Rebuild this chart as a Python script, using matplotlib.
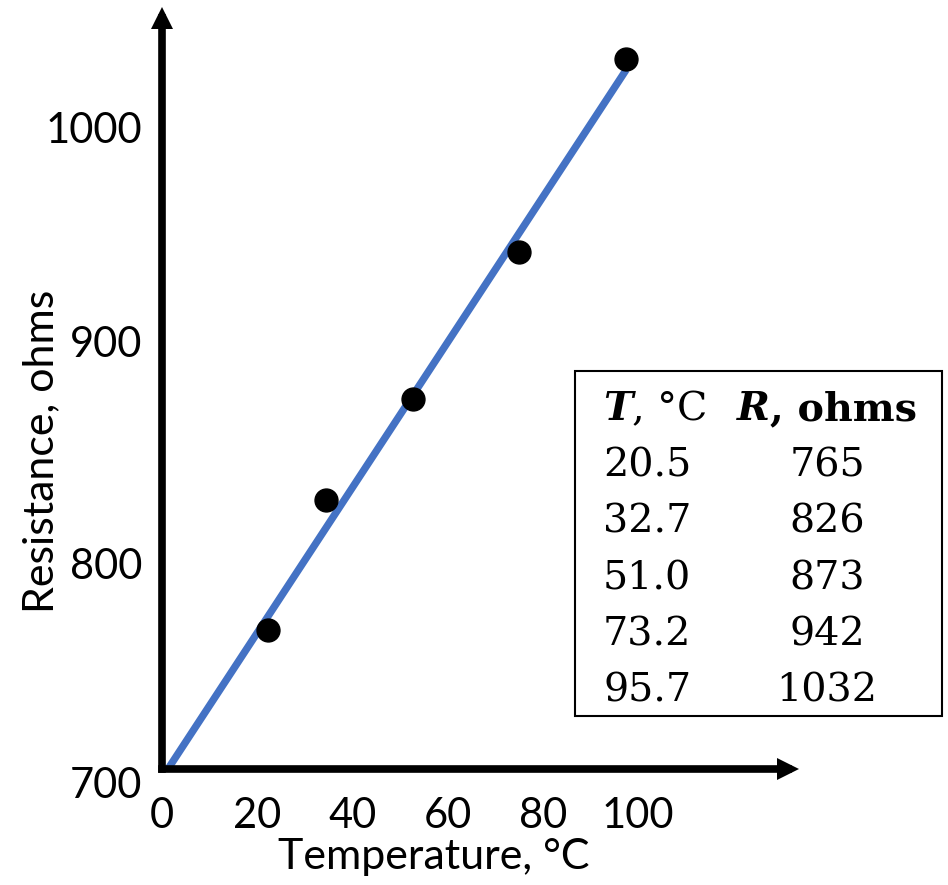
import numpy as np
import matplotlib
matplotlib.use("Agg")
import matplotlib.pyplot as plt
from matplotlib.transforms import ScaledTranslation
from matplotlib.patches import Rectangle

# measured data
temps = [20.5, 32.7, 51.0, 73.2, 95.7]
resist = [765, 826, 873, 942, 1032]
xticks = [0, 20, 40, 60, 80, 100]
yticks = [700, 800, 900, 1000]
xlabel = "Temperature, °C"
ylabel = "Resistance, ohms"
hdr_t = ("T", ", °C")
hdr_r = ("R", ", ohms")

W, H = 948, 885
sans = ['Lato', 'DejaVu Sans']
serif = 'DejaVu Serif'

fig = plt.figure(figsize=(W / 100, H / 100), dpi=100)
ax = fig.add_axes([162 / W, 1 - 769.3 / H, (787.5 - 162) / W, (769.3 - 17.5) / H])
ax.set_xlim(-1.85, 129.6)
ax.set_ylim(700, 1051.5)

# axes drawn as thick arrows
for side in ['top', 'right']:
    ax.spines[side].set_visible(False)
for side in ['left', 'bottom']:
    ax.spines[side].set_linewidth(5.5)
    ax.spines[side].set_capstyle('projecting')
ax.plot(1, 0, '>', color='k', ms=16.5, mew=0, transform=ax.transAxes, clip_on=False)
ax.plot(0, 1, '^', color='k', ms=16.5, mew=0, transform=ax.transAxes, clip_on=False)

# linear fit, drawn from the x axis to the last point
slope, icpt = np.polyfit(temps, resist, 1)
x0 = (700 - icpt) / slope
fit_x = np.array([x0, max(temps)])
ax.plot(fit_x, icpt + slope * fit_x, color='#4472C4', lw=5.3, solid_capstyle='butt', zorder=2)
ax.plot(temps, resist, 'o', color='k', ms=16.5, zorder=3)

ax.set_xticks(xticks)
ax.set_yticks(yticks)
ax.tick_params(length=0, labelsize=30)
ax.tick_params(axis='x', pad=20)
ax.tick_params(axis='y', pad=14)
for lbl in ax.get_xticklabels() + ax.get_yticklabels():
    lbl.set_family(sans)
shift = ScaledTranslation(-8.5 / 100, 0, fig.dpi_scale_trans)
for lbl in ax.get_xticklabels():
    lbl.set_transform(lbl.get_transform() + shift)
# the two lowest y labels sit a little lower in the original
for lbl, dy in zip(ax.get_yticklabels()[:2], [-13, -8]):
    lbl.set_transform(lbl.get_transform() + ScaledTranslation(0, dy / 100, fig.dpi_scale_trans))

ax.set_xlabel(xlabel, fontsize=31, family=sans)
ax.xaxis.set_label_coords((434 - 162) / (787.5 - 162), (769.3 - 838) / (769.3 - 17.5))
ax.set_ylabel(ylabel, fontsize=31, family=sans)
ax.yaxis.set_label_coords((60 - 162) / (787.5 - 162), (769.3 - 451) / (769.3 - 17.5))

# data table in a box
box = Rectangle((575 / W, 1 - 715.7 / H), 367 / W, 344.7 / H, transform=fig.transFigure,
                facecolor='white', edgecolor='black', lw=1.5, zorder=5)
fig.patches.append(box)

fs = 28.5
col1 = 603 / W
col2 = 827 / W
base = [420 + 56.35 * i for i in range(len(temps) + 1)]

t1 = fig.text(col1, 1 - base[0] / H, hdr_t[0], fontsize=fs, family=serif,
              weight='bold', style='italic', va='baseline', zorder=6)
t2 = fig.text(col1, 1 - base[0] / H, hdr_t[1], fontsize=fs, family=serif, va='baseline', zorder=6)
r1 = fig.text(col2, 1 - base[0] / H, hdr_r[0], fontsize=fs, family=serif,
              weight='bold', style='italic', va='baseline', zorder=6)
r2 = fig.text(col2, 1 - base[0] / H, hdr_r[1], fontsize=fs, family=serif,
              weight='bold', va='baseline', zorder=6)

for i, (t, r) in enumerate(zip(temps, resist)):
    y = 1 - base[i + 1] / H
    fig.text(col1, y, f"{t:.1f}", fontsize=fs, family=serif, va='baseline', zorder=6)
    fig.text(col2, y, f"{r}", fontsize=fs, family=serif, va='baseline', ha='center', zorder=6)

# place the header pieces next to each other
rend = fig.canvas.get_renderer()
w_t = t1.get_window_extent(rend).width / W
t2.set_x(col1 + w_t)
w_r1 = r1.get_window_extent(rend).width / W
w_r2 = r2.get_window_extent(rend).width / W
r1.set_x(col2 - (w_r1 + w_r2) / 2)
r2.set_x(col2 - (w_r1 + w_r2) / 2 + w_r1)

fig.savefig("out.png", dpi=100)
